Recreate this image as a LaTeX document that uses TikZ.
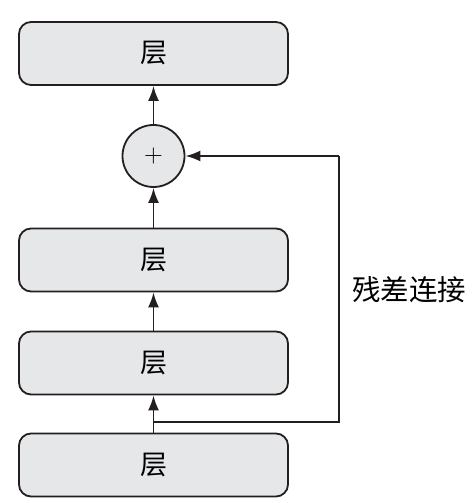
\documentclass[tikz,border=0pt]{standalone}
\usepackage{fontspec}
\newfontfamily\cjk{Noto Sans CJK SC}
\usetikzlibrary{arrows.meta}
\definecolor{boxfill}{HTML}{E6E7E8}
\definecolor{linecol}{HTML}{231F20}
\begin{document}
\begin{tikzpicture}[x=1pt,y=1pt,
  layer/.style={draw=linecol, line width=1.8pt, fill=boxfill, rounded corners=12pt,
    minimum width=269pt, minimum height=63pt, inner sep=0pt, font=\cjk\fontsize{27}{27}\selectfont},
  addop/.style={circle, draw=linecol, line width=1.8pt, fill=boxfill, minimum size=62pt, inner sep=0pt,
    font=\fontsize{26}{26}\selectfont},
  conn/.style={draw=linecol, line width=1.8pt, -{Latex[length=15pt,width=11pt]}},
  plain/.style={draw=linecol, line width=1.8pt}]
\useasboundingbox (0,0) rectangle (476,503);
\node[layer] (l1) at (153.5,449.5) {层};
\node[addop] (add) at (153.5,347) {+};
\node[layer] (l2) at (153.5,243) {层};
\node[layer] (l3) at (153.5,140) {层};
\node[layer] (l4) at (153.5,38) {层};
\coordinate (j) at (153.5,81);
\coordinate (r1) at (339,81);
\coordinate (r2) at (339,347);
\draw[conn] (add) -- (l1);
\draw[conn] (l2) -- (add);
\draw[conn] (l3) -- (l2);
\draw[conn] (l4) -- (l3);
\draw[plain] (j) -- (r1) -- (r2);
\draw[conn] (r2) -- (add);
\node[font=\cjk\fontsize{28.5}{28.5}\selectfont, anchor=west, inner sep=0pt] (lab) at (352,213) {残差连接};
\end{tikzpicture}
\end{document}
